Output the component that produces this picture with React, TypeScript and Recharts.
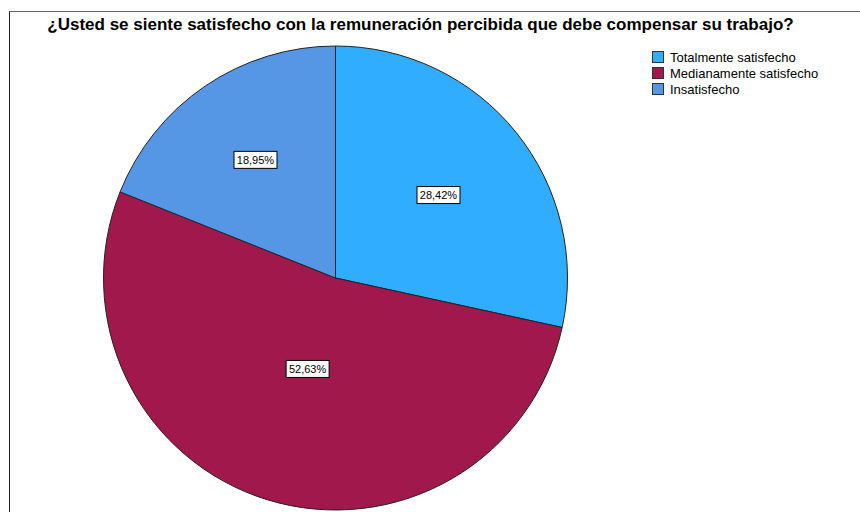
import { Pie, PieChart, Cell } from "recharts";

const categories = [
  "Totalmente satisfecho",
  "Medianamente satisfecho",
  "Insatisfecho",
];
const counts = [27, 50, 18];
const colors = ["#31adff", "#a1184c", "#5697e5"];

const data = categories.map((name, i) => ({ name, value: counts[i] }));
const total = counts.reduce((a, b) => a + b, 0);

// SPSS puts the slice labels at different depths
const labelDepth = [0.57, 0.41, 0.615];
const RAD = Math.PI / 180;

const fmtPct = (v: number) => `${((v / total) * 100).toFixed(2).replace(".", ",")}%`;

function SliceLabel(props: any) {
  const { cx, cy, midAngle, outerRadius, index, value } = props;
  const r = outerRadius * labelDepth[index];
  const x = cx + r * Math.cos(-midAngle * RAD);
  const y = cy + r * Math.sin(-midAngle * RAD);
  return (
    <g>
      <rect
        x={x - 21.5}
        y={y - 8.5}
        width={43}
        height={17}
        fill="#fff"
        stroke="#000"
        strokeWidth={1}
      />
      <text
        x={x}
        y={y + 4}
        textAnchor="middle"
        fontSize={11}
        fontFamily="Liberation Sans, Arial, sans-serif"
        fill="#000"
      >
        {fmtPct(value)}
      </text>
    </g>
  );
}

export default function App() {
  return (
    <div
      style={{
        position: "relative",
        width: 860,
        height: 512,
        overflow: "hidden",
        background: "#fff",
        fontFamily: "Liberation Sans, Arial, sans-serif",
      }}
    >
      <style>{`body{margin:0}`}</style>
      <div
        style={{
          position: "absolute",
          left: 9,
          top: 11,
          width: 900,
          height: 600,
          borderLeft: "1px solid #222",
          borderTop: "1px solid #666",
        }}
      />
      <div
        style={{
          position: "absolute",
          left: 0,
          width: 841,
          top: 15,
          textAlign: "center",
          fontWeight: "bold",
          fontSize: 17,
          color: "#000",
          whiteSpace: "nowrap",
        }}
      >
        ¿Usted se siente satisfecho con la remuneración percibida que debe compensar su trabajo?
      </div>
      <div style={{ position: "absolute", left: 652, top: 49, fontSize: 13 }}>
        {categories.map((c, i) => (
          <div
            key={c}
            style={{ display: "flex", alignItems: "center", height: 16 }}
          >
            <span
              style={{
                display: "inline-block",
                width: 10,
                height: 10,
                background: colors[i],
                border: "1px solid #333",
                marginRight: 6,
              }}
            />
            <span>{c}</span>
          </div>
        ))}
      </div>
      <div style={{ position: "absolute", left: 0, top: 0 }}>
        <PieChart width={860} height={512}>
          <Pie
            data={data}
            dataKey="value"
            nameKey="name"
            cx={330.5}
            cy={273}
            outerRadius={232}
            startAngle={90}
            endAngle={-270}
            stroke="#222"
            strokeWidth={1}
            label={SliceLabel}
            labelLine={false}
            isAnimationActive={false}
          >
            {data.map((d, i) => (
              <Cell key={d.name} fill={colors[i]} />
            ))}
          </Pie>
        </PieChart>
      </div>
    </div>
  );
}
